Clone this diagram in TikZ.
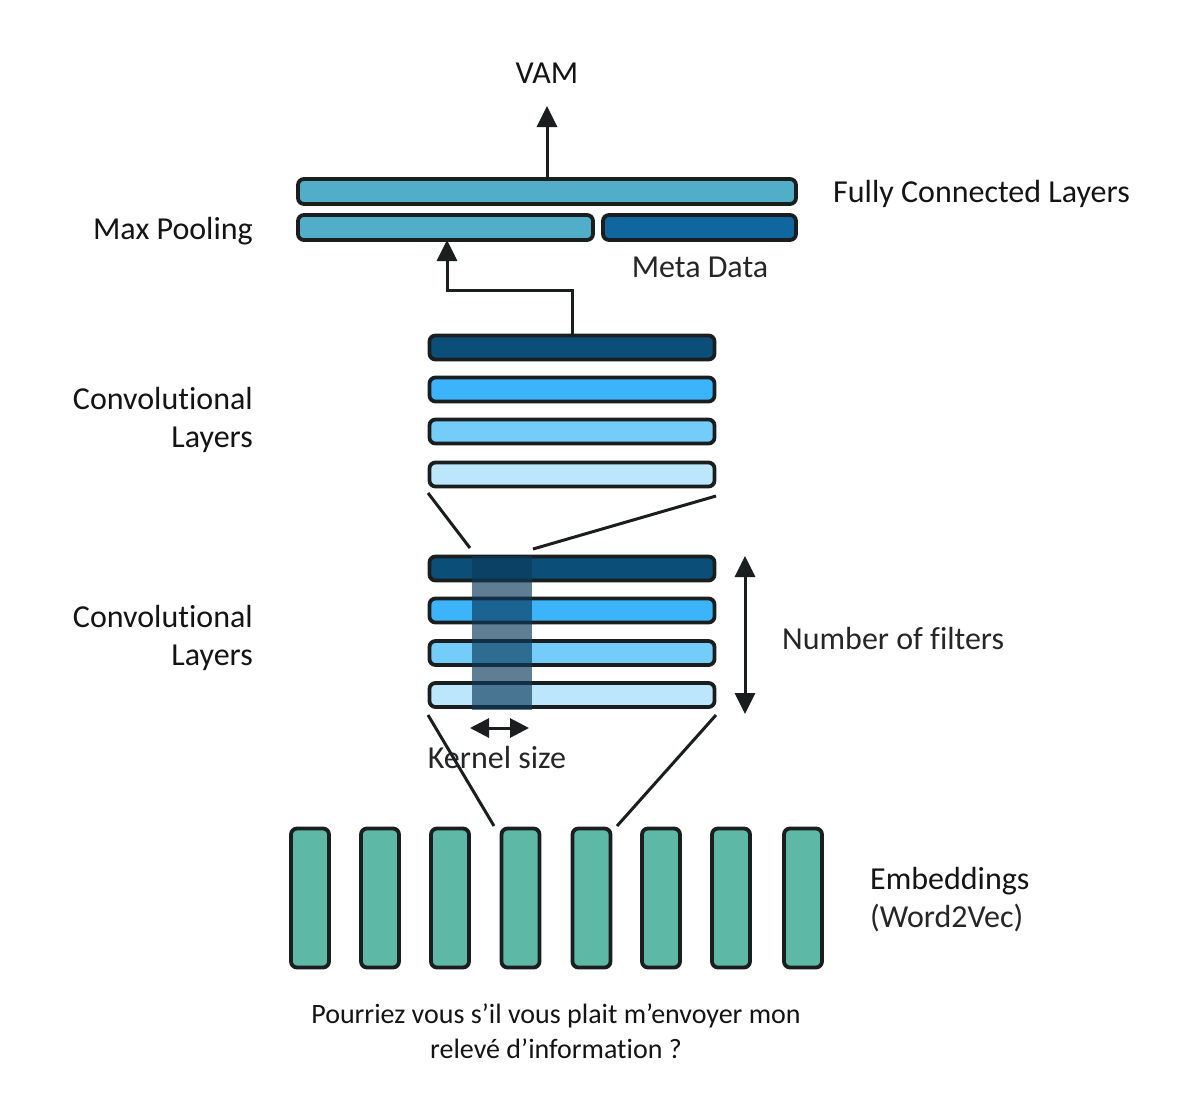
\documentclass[tikz,border=0pt]{standalone}
\usepackage{fontspec}
\setmainfont[Ligatures=NoCommon]{Carlito}
\usetikzlibrary{arrows.meta,calc}
\definecolor{outl}{HTML}{1A1E1E}
\definecolor{fcc}{HTML}{52ADC8}
\definecolor{metac}{HTML}{10669F}
\definecolor{cA}{HTML}{0B4F78}
\definecolor{cB}{HTML}{3BB4FB}
\definecolor{cC}{HTML}{74CCF9}
\definecolor{cD}{HTML}{BCE6FB}
\definecolor{embc}{HTML}{5DB8A5}
\definecolor{kern}{HTML}{0B3A5A}
\definecolor{txt}{HTML}{141414}
\definecolor{ltxt}{HTML}{262626}
\begin{document}
\begin{tikzpicture}[x=1pt,y=-1pt,
  bar/.style={draw=outl,line width=3.8pt,rounded corners=6pt,rectangle,inner sep=0pt,outer sep=0pt},
  hbar/.style={bar,minimum height=25pt},
  convbar/.style={bar,minimum width=285pt,minimum height=24pt},
  embbar/.style={bar,fill=embc,minimum width=38pt,minimum height=139pt},
  conn/.style={draw=outl,line width=3pt},
  arr/.style={conn,-{Triangle[width=20pt,length=21pt]}},
  darr/.style={conn,{Triangle[width=20pt,length=21pt]}-{Triangle[width=20pt,length=21pt]}},
  karr/.style={conn,{Triangle[width=19pt,length=19pt]}-{Triangle[width=19pt,length=19pt]}},
  lbl/.style={inner sep=0pt,text=txt,font=\fontsize{32}{38}\selectfont},
  llbl/.style={inner sep=0pt,text=ltxt,font=\fontsize{32}{38}\selectfont}
]
\useasboundingbox[fill=white] (0,0) rectangle (1186,1096);

% fully connected / max pooling / meta data
\node[hbar,fill=fcc,minimum width=498pt] (fc) at (547,191.5) {};
\node[hbar,fill=fcc,minimum width=295pt] (mp) at (445.5,227.5) {};
\node[hbar,fill=metac,minimum width=193pt] (meta) at (699.5,227.5) {};

% convolutional layers 1
\node[convbar,fill=cA] (c1a) at (572,347.5) {};
\node[convbar,fill=cB] (c1b) at (572,389.5) {};
\node[convbar,fill=cC] (c1c) at (572,431.5) {};
\node[convbar,fill=cD] (c1d) at (572,474.5) {};

% convolutional layers 2
\node[convbar,fill=cA] (c2a) at (572,568.5) {};
\node[convbar,fill=cB] (c2b) at (572,610.5) {};
\node[convbar,fill=cC] (c2c) at (572,653) {};
\node[convbar,fill=cD] (c2d) at (572,695) {};

% kernel overlay
\node[rectangle,fill=kern,fill opacity=0.65,inner sep=0pt,outer sep=0pt,
      minimum width=60pt,minimum height=154pt] (kern) at (502,632.5) {};

% embeddings
\foreach \i/\x in {1/310,2/380,3/450,4/520.5,5/591.5,6/661,7/731,8/803}{
  \node[embbar] (e\i) at (\x,898) {};
}

% texts
\node[lbl,anchor=base] (vam) at (547,83) {VAM};
\node[lbl,anchor=base west] (fclbl) at (833,202) {Fully Connected Layers};
\node[lbl,anchor=base east] (mplbl) at (253,239) {Max Pooling};
\node[llbl,anchor=base] (metalbl) at (700,277) {Meta Data};
\node[lbl,anchor=east,align=right] (conv1lbl) at (253,420) {Convolut\kern0pt ional\\Layers};
\node[lbl,anchor=east,align=right] (conv2lbl) at (253,638) {Convolut\kern0pt ional\\Layers};
\node[llbl,anchor=base west] (nflbl) at (782,649) {Number of filters};
\node[llbl,anchor=base] (kslbl) at (497,768) {Kernel size};
\node[lbl,anchor=west,align=left] (emblbl) at (870,900) {Embeddings\\{\color{ltxt}(Word2Vec)}};
\node[inner sep=0pt,text=txt,font=\fontsize{28}{35}\selectfont,align=center] (sent) at (556,1031)
  {Pourriez vous s’il vous plait m’envoyer mon\\relevé d’informat\kern0pt ion ?};

% arrows
\coordinate (vamtip) at (547,106);
\draw[arr] (fc.north) -- (vamtip);
\coordinate (bend) at (447,290);
\draw[arr] (c1a.north) |- (bend) -- (bend |- mp.south);
\coordinate (nft) at (745,556);
\coordinate (nfb) at (745,714);
\draw[darr] (nft) -- (nfb);
\coordinate (ksl) at (470,728);
\coordinate (ksr) at (529,728);
\draw[karr] (ksl) -- (ksr);

% funnel lines
\coordinate (f1a) at (428,493);
\coordinate (f1b) at (470,548);
\coordinate (f2a) at (716,496);
\coordinate (f2b) at (533,549);
\draw[conn] (f1a) -- (f1b);
\draw[conn] (f2a) -- (f2b);
\coordinate (g1a) at (428,715);
\coordinate (g1b) at (494,826);
\coordinate (g2a) at (716,715);
\coordinate (g2b) at (617,826);
\draw[conn] (g1a) -- (g1b);
\draw[conn] (g2a) -- (g2b);
\end{tikzpicture}
\end{document}
